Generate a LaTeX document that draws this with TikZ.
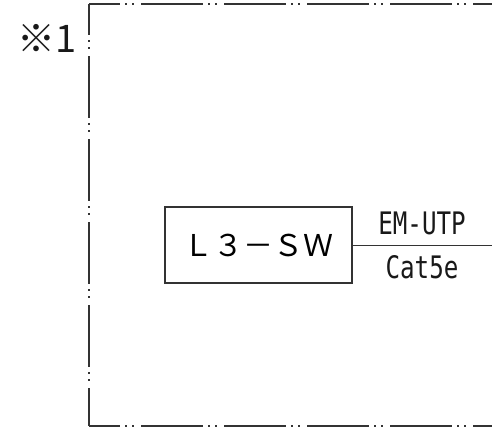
\documentclass[tikz,border=0pt]{standalone}
\usepackage{fontspec}
\setmainfont{Liberation Sans}
\newfontfamily\jpfont{Noto Sans CJK JP}
\newfontfamily\cablefont{DejaVu Sans Mono}
\usetikzlibrary{positioning}

\begin{document}
\begin{tikzpicture}[x=1pt, y=-1pt]
  \tikzset{framepart/.style={draw=black!80, line width=1.3pt, dash pattern=on 62pt off 5pt on 2pt off 5pt on 2pt off 7pt, dash phase=31pt},
    swbox/.style={draw=black!80, line width=1.3pt, minimum width=187pt, minimum height=76pt, inner sep=0pt, font=\jpfont\fontsize{30}{30}\selectfont},
    cablelabel/.style={inner sep=0pt, anchor=base, text=black!90, font=\cablefont\fontsize{31}{31}\selectfont}}
  \useasboundingbox (0,0) rectangle (492,429);
  % frame, open to the right
  \coordinate (tl) at (89,4);
  \coordinate (bl) at (89,426);
  \draw[framepart] (tl) -- (492,4);
  \draw[framepart] (tl) -- (bl);
  \draw[framepart] (bl) -- (492,426);
  \node[font=\jpfont\fontsize{38}{38}\selectfont, text=black!90, anchor=base] (note) at (47,52) {※1};
  % switch and cable
  \node[swbox] (l3sw) at (258.5,245) {Ｌ３－ＳＷ};
  \coordinate (cableend) at (492,245);
  \draw[draw=black!80, line width=1pt] (l3sw.east) -- (cableend);
  \node[cablelabel] (cabletype) at (422,234) {\scalebox{0.78}[1]{EM-UTP}};
  \node[cablelabel] (cablecat) at (422,278) {\scalebox{0.78}[1]{Cat5e}};
\end{tikzpicture}
\end{document}
